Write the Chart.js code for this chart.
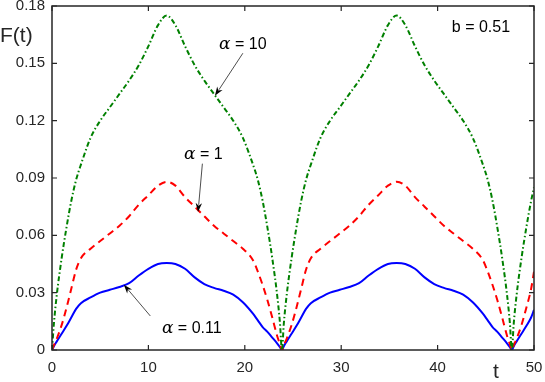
<!DOCTYPE html>
<html>
<head>
<meta charset="utf-8">
<script src="https://cdn.jsdelivr.net/npm/chart.js@4.4.1/dist/chart.umd.min.js"></script>
<style>
  html, body { margin: 0; padding: 0; background: #fff; }
  #wrap { width: 545px; height: 382px; }
</style>
</head>
<body>
<div id="wrap"><canvas id="fChart" width="545" height="382"></canvas></div>
<script>
// time axis (two periods + the start of a third)
const tValues = [
  0, 0.2, 0.5, 1, 1.5, 2, 2.5, 3, 4, 5, 6, 7, 8, 9, 10, 11, 11.9, 12.8, 13.8, 14.8, 15.8, 16.8, 17.8, 18.8, 19.8, 20.85, 21.35, 21.85, 22.35, 22.85, 23.35, 23.65, 23.85,
  24.05, 24.35, 24.85, 25.35, 25.85, 26.35, 26.85, 27.85, 28.85, 29.85, 30.85, 31.85, 32.85, 33.85, 34.85, 35.75, 36.65, 37.65, 38.65, 39.65, 40.65, 41.65, 42.65, 43.65, 44.7, 45.2, 45.7, 46.2, 46.7, 47.2, 47.5, 47.7,
  47.9, 48.2, 48.7, 49.2, 49.7, 50
];

// alpha = 0.11 (blue, solid)
const fAlpha011 = [
  0, 0.002, 0.0045, 0.0085, 0.0125, 0.017, 0.0215, 0.0245, 0.0275, 0.030, 0.0315, 0.033, 0.035, 0.039, 0.0425, 0.045, 0.0455, 0.045, 0.0425, 0.038, 0.0345, 0.0325, 0.031, 0.029, 0.025, 0.019, 0.0155, 0.012, 0.0095, 0.0065, 0.0035, 0.0015, 0,
  0.002, 0.0045, 0.0085, 0.0125, 0.017, 0.0215, 0.0245, 0.0275, 0.030, 0.0315, 0.033, 0.035, 0.039, 0.0425, 0.045, 0.0455, 0.045, 0.0425, 0.038, 0.0345, 0.0325, 0.031, 0.029, 0.025, 0.019, 0.0155, 0.012, 0.0095, 0.0065, 0.0035, 0.0015, 0,
  0.002, 0.0045, 0.0085, 0.0125, 0.017, 0.021
];

// alpha = 1 (red, dashed)
const fAlpha1 = [
  0, 0.0025, 0.006, 0.013, 0.022, 0.032, 0.042, 0.048, 0.053, 0.057, 0.061, 0.065, 0.070, 0.076, 0.081, 0.086, 0.088, 0.086, 0.080, 0.075, 0.070, 0.065, 0.061, 0.057, 0.053, 0.047, 0.041, 0.034, 0.026, 0.017, 0.0075, 0.003, 0,
  0.0025, 0.006, 0.013, 0.022, 0.032, 0.042, 0.048, 0.053, 0.057, 0.061, 0.065, 0.070, 0.076, 0.081, 0.086, 0.088, 0.086, 0.080, 0.075, 0.070, 0.065, 0.061, 0.057, 0.053, 0.047, 0.041, 0.034, 0.026, 0.017, 0.0075, 0.003, 0,
  0.0025, 0.006, 0.013, 0.022, 0.032, 0.041
];

// alpha = 10 (green, dash-dot)
const fAlpha10 = [
  0, 0.014, 0.029, 0.048, 0.064, 0.078, 0.089, 0.097, 0.111, 0.120, 0.127, 0.134, 0.141, 0.149, 0.159, 0.170, 0.175, 0.170, 0.159, 0.149, 0.141, 0.134, 0.127, 0.120, 0.111, 0.097, 0.089, 0.078, 0.064, 0.048, 0.029, 0.014, 0,
  0.014, 0.029, 0.048, 0.064, 0.078, 0.089, 0.097, 0.111, 0.120, 0.127, 0.134, 0.141, 0.149, 0.159, 0.170, 0.175, 0.170, 0.159, 0.149, 0.141, 0.134, 0.127, 0.120, 0.111, 0.097, 0.089, 0.078, 0.064, 0.048, 0.029, 0.014, 0,
  0.014, 0.029, 0.048, 0.064, 0.078, 0.085
];

const xTicks = [0, 10, 20, 30, 40, 50];
const yTicks = [0, 0.03, 0.06, 0.09, 0.12, 0.15, 0.18];

const axisColor = "#262626";
const sansFont = "'Liberation Sans', Arial, Helvetica, sans-serif";

// labels with arrows, in data units
const notes = [
  { value: "10",   text: [19.8, 0.1596], from: [19.8, 0.1553], to: [16.9, 0.133] },
  { value: "1",    text: [15.7, 0.102],  from: [15.6, 0.0975], to: [15.15, 0.0722] },
  { value: "0.11", text: [14.5, 0.011],  from: [10.2, 0.0178], to: [7.45, 0.0342] }
];

function toPoints(ys) {
  return tValues.map((t, i) => ({ x: t, y: ys[i] }));
}

function drawArrow(ctx, x1, y1, x2, y2) {
  const ang = Math.atan2(y2 - y1, x2 - x1);
  const head = 9, wing = 3.2;
  ctx.strokeStyle = "#000";
  ctx.fillStyle = "#000";
  ctx.lineWidth = 0.7;
  ctx.beginPath();
  ctx.moveTo(x1, y1);
  ctx.lineTo(x2 - Math.cos(ang) * head * 0.8, y2 - Math.sin(ang) * head * 0.8);
  ctx.stroke();
  ctx.beginPath();
  ctx.moveTo(x2, y2);
  ctx.lineTo(x2 - Math.cos(ang) * head - Math.sin(ang) * wing, y2 - Math.sin(ang) * head + Math.cos(ang) * wing);
  ctx.lineTo(x2 - Math.cos(ang) * head * 0.7, y2 - Math.sin(ang) * head * 0.7);
  ctx.lineTo(x2 - Math.cos(ang) * head + Math.sin(ang) * wing, y2 - Math.sin(ang) * head - Math.cos(ang) * wing);
  ctx.closePath();
  ctx.fill();
}

// frame, inward ticks, axis titles and notes
const decorPlugin = {
  id: "decor",
  afterDraw(chart) {
    const ctx = chart.ctx;
    const a = chart.chartArea;
    const xs = chart.scales.x, ys = chart.scales.y;
    ctx.save();

    ctx.strokeStyle = axisColor;
    ctx.lineWidth = 1.5;
    ctx.strokeRect(a.left, a.top, a.right - a.left, a.bottom - a.top);

    const tl = 5;
    ctx.lineWidth = 1.2;
    ctx.beginPath();
    xTicks.forEach(v => {
      const px = xs.getPixelForValue(v);
      ctx.moveTo(px, a.bottom); ctx.lineTo(px, a.bottom - tl);
      ctx.moveTo(px, a.top); ctx.lineTo(px, a.top + tl);
    });
    yTicks.forEach(v => {
      const py = ys.getPixelForValue(v);
      ctx.moveTo(a.left, py); ctx.lineTo(a.left + tl, py);
      ctx.moveTo(a.right, py); ctx.lineTo(a.right - tl, py);
    });
    ctx.stroke();

    // axis titles
    ctx.fillStyle = axisColor;
    ctx.font = "21px " + sansFont;
    ctx.textBaseline = "middle";
    ctx.textAlign = "left";
    ctx.fillText("F(t)", 0, 36);
    ctx.textAlign = "center";
    ctx.fillText("t", 496, 372);

    // b = 0.51
    ctx.fillStyle = "#000";
    ctx.font = "16px " + sansFont;
    ctx.fillText("b = 0.51", xs.getPixelForValue(44.5), ys.getPixelForValue(0.1685));

    // alpha notes
    notes.forEach(n => {
      const greek = "\u03B1";
      const rest = " = " + n.value;
      ctx.font = "italic 17px 'DejaVu Serif', 'Liberation Serif', serif";
      const wg = ctx.measureText(greek).width;
      ctx.font = "16px " + sansFont;
      const wr = ctx.measureText(rest).width;
      const cx = xs.getPixelForValue(n.text[0]);
      const cy = ys.getPixelForValue(n.text[1]);
      const x0 = cx - (wg + wr) / 2;
      ctx.textAlign = "left";
      ctx.font = "italic 17px 'DejaVu Serif', 'Liberation Serif', serif";
      ctx.fillText(greek, x0, cy);
      ctx.font = "16px " + sansFont;
      ctx.fillText(rest, x0 + wg, cy);
      drawArrow(ctx,
        xs.getPixelForValue(n.from[0]), ys.getPixelForValue(n.from[1]),
        xs.getPixelForValue(n.to[0]), ys.getPixelForValue(n.to[1]));
    });

    ctx.restore();
  }
};

const lineBase = {
  pointRadius: 0,
  borderWidth: 2,
  fill: false,
  cubicInterpolationMode: "monotone"
};

new Chart(document.getElementById("fChart").getContext("2d"), {
  type: "line",
  data: {
    datasets: [
      Object.assign({ label: "alpha = 10", data: toPoints(fAlpha10), borderColor: "#008000", borderDash: [5, 2.5, 1.5, 2.5] }, lineBase),
      Object.assign({ label: "alpha = 1", data: toPoints(fAlpha1), borderColor: "#ff0000", borderDash: [7, 5] }, lineBase),
      Object.assign({ label: "alpha = 0.11", data: toPoints(fAlpha011), borderColor: "#0000ff" }, lineBase)
    ]
  },
  options: {
    responsive: false,
    devicePixelRatio: 1,
    animation: false,
    layout: { padding: { top: 6, right: 11, left: 0, bottom: 0 } },
    plugins: {
      legend: { display: false },
      tooltip: { enabled: false }
    },
    scales: {
      x: {
        type: "linear",
        min: 0,
        max: 50,
        afterBuildTicks: s => { s.ticks = xTicks.map(v => ({ value: v })); },
        afterFit: s => { s.height = 32; s.paddingLeft = 0; s.paddingRight = 0; },
        grid: { display: false, drawTicks: false },
        border: { display: false },
        ticks: {
          padding: 9,
          color: axisColor,
          font: { family: sansFont, size: 15 },
          callback: v => String(v)
        }
      },
      y: {
        type: "linear",
        min: 0,
        max: 0.18,
        afterBuildTicks: s => { s.ticks = yTicks.map(v => ({ value: v })); },
        afterFit: s => { s.width = 52; s.paddingTop = 0; s.paddingBottom = 0; },
        grid: { display: false, drawTicks: false },
        border: { display: false },
        ticks: {
          padding: 7,
          color: axisColor,
          font: { family: sansFont, size: 15 },
          callback: v => (v === 0 ? "0" : v.toFixed(2))
        }
      }
    }
  },
  plugins: [decorPlugin]
});
</script>
</body>
</html>
